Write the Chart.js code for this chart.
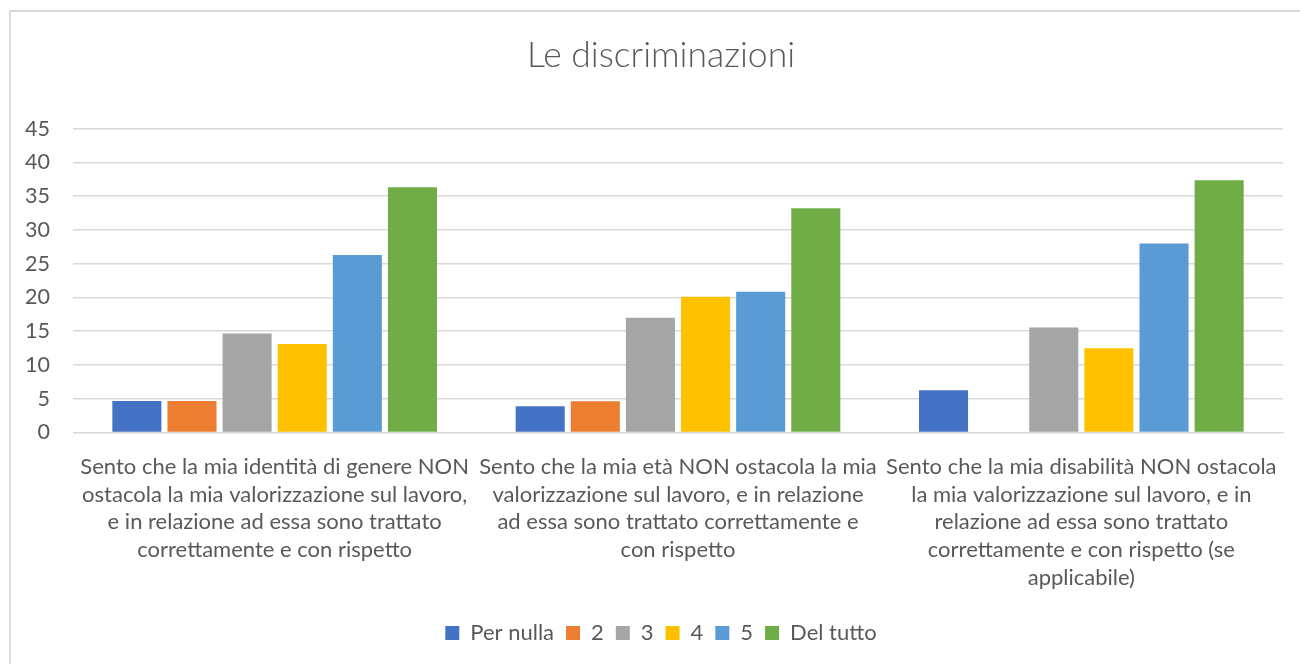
<!DOCTYPE html>
<html>
<head>
<meta charset="utf-8">
<script src="https://cdn.jsdelivr.net/npm/chart.js@4/dist/chart.umd.min.js"></script>
<style>
  html, body { margin: 0; padding: 0; background: #fff; width: 1300px; height: 664px; overflow: hidden; }
  #frame { position: absolute; left: 9px; top: 10px; width: 1400px; height: 800px; border-left: 2px solid #d9d9d9; border-top: 2px solid #d9d9d9; }
  #wrap { position: absolute; left: 0; top: 0; width: 1300px; height: 664px; }
</style>
</head>
<body>
<div id="frame"></div>
<div id="wrap"><canvas id="c" width="1300" height="664"></canvas></div>
<script>
const chartTitle = "Le discriminazioni";
const categories = [
  ["Sento che la mia identità di genere NON", "ostacola la mia valorizzazione sul lavoro,", "e in relazione ad essa sono trattato", "correttamente e con rispetto"],
  ["Sento che la mia età NON ostacola la mia", "valorizzazione sul lavoro, e in relazione", "ad essa sono trattato correttamente e", "con rispetto"],
  ["Sento che la mia disabilità NON ostacola", "la mia valorizzazione sul lavoro, e in", "relazione ad essa sono trattato", "correttamente e con rispetto (se", "applicabile)"]
];
const seriesNames = ["Per nulla", "2", "3", "4", "5", "Del tutto"];
const perNulla = [4.67, 3.88, 6.26];
const due = [4.67, 4.62, 0];
const tre = [14.65, 16.98, 15.54];
const quattro = [13.1, 20.09, 12.48];
const cinque = [26.3, 20.83, 28.0];
const delTutto = [36.3, 33.19, 37.34];
const seriesValues = [perNulla, due, tre, quattro, cinque, delTutto];
const seriesColors = ["#4472C4", "#ED7D31", "#A5A5A5", "#FFC000", "#5B9BD5", "#70AD47"];
const yTicks = [0, 5, 10, 15, 20, 25, 30, 35, 40, 45];

const FONT = "Lato, 'Open Sans', sans-serif";
const TXT = "#595959";

new Chart(document.getElementById('c'), {
  type: 'bar',
  data: {
    labels: categories,
    datasets: seriesNames.map((n, i) => ({
      label: n,
      data: seriesValues[i],
      backgroundColor: seriesColors[i],
      borderWidth: 0,
      categoryPercentage: 0.82,
      barPercentage: 0.89
    }))
  },
  options: {
    responsive: false,
    animation: false,
    layout: { padding: { left: 0, right: -22, top: 0, bottom: 10 } },
    plugins: {
      title: {
        display: true,
        text: chartTitle,
        color: TXT,
        font: { family: FONT, size: 35.5, weight: 300, lineHeight: 1.2 },
        padding: { top: 34, bottom: 52 }
      },
      legend: {
        position: 'bottom',
        labels: {
          color: TXT,
          font: { family: FONT, size: 22 },
          boxWidth: 14,
          boxHeight: 14,
          padding: 12
        }
      },
      tooltip: { enabled: false }
    },
    scales: {
      x: {
        grid: { display: false },
        border: { color: '#d9d9d9', width: 1 },
        ticks: {
          color: TXT,
          font: { family: FONT, size: 22, lineHeight: 1.27 },
          maxRotation: 0,
          autoSkip: false,
          padding: 12
        },
        afterFit: (s) => { s.height = 177.5; }
      },
      y: {
        min: 0,
        max: 45,
        afterBuildTicks: (s) => { s.ticks = yTicks.map(v => ({ value: v })); },
        grid: { color: '#d9d9d9', lineWidth: 1.5, drawTicks: false },
        border: { display: false },
        ticks: {
          color: TXT,
          font: { family: FONT, size: 21.5 },
          padding: 23
        },
        afterFit: (s) => { s.width = 73; }
      },
      ySpacer: {
        type: 'linear',
        position: 'right',
        display: true,
        grid: { display: false, drawTicks: false },
        border: { display: false },
        ticks: { display: false },
        afterFit: (s) => { s.width = 39; }
      }
    }
  }
});
</script>
</body>
</html>
